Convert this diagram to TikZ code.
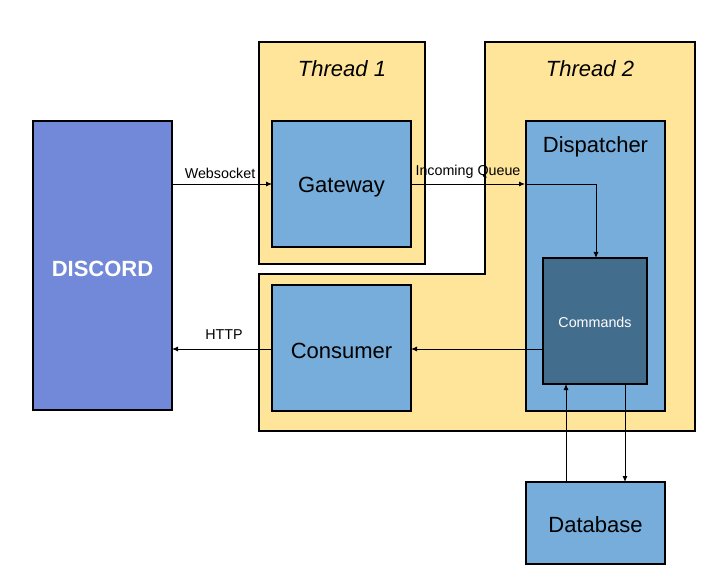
\documentclass[tikz,border=0pt]{standalone}
\usepackage{fontspec}
\setmainfont{Liberation Sans}
\usetikzlibrary{arrows.meta}
\definecolor{thr}{HTML}{FFE599}
\definecolor{bbox}{HTML}{77ADDA}
\definecolor{disc}{HTML}{7289D9}
\definecolor{cmd}{HTML}{436D8D}
\begin{document}
\begin{tikzpicture}[x=1pt,y=-1pt,
  thread/.style={draw=black,fill=thr,line width=1.1pt},
  comp/.style={draw=black,fill=bbox,line width=1.1pt},
  big/.style={font=\fontsize{22}{26}\selectfont},
  conn/.style={line width=0.9pt,-{Latex[length=6pt,width=5pt]}},
  lbl/.style={font=\fontsize{14.3}{17}\selectfont}]
\useasboundingbox (0,0) rectangle (717,585);
% threads
\draw[thread] (259,42) rectangle (425,264);
\draw[thread] (485,42) -- (695,42) -- (695,431) -- (259,431) -- (259,274) -- (485,274) -- cycle;
\node[font=\itshape\fontsize{22}{26}\selectfont] (t1) at (342,69) {Thread 1};
\node[font=\itshape\fontsize{22}{26}\selectfont] (t2) at (590,69) {Thread 2};
% components
\draw[draw=black,fill=disc,line width=1.1pt] (33,121) rectangle (172,410);
\node[font=\bfseries\fontsize{22}{26}\selectfont,text=white] (discord) at (102.5,269) {DISCORD};
\coordinate (dW) at (172,184);
\coordinate (dH) at (172,349);
\draw[comp] (272,121) rectangle (411,247);
\node[big] (gateway) at (341.5,187) {Gateway};
\draw[comp] (272,285) rectangle (411,411);
\node[big] (consumer) at (341.5,351) {Consumer};
\draw[comp] (526,121) rectangle (665,411);
\node[big] (dispatcher) at (595.5,147) {Dispatcher};
\draw[draw=black,fill=cmd,line width=1.1pt] (543,258) rectangle (647,384);
\node[font=\fontsize{14.3}{17}\selectfont,text=white] (commands) at (595,322) {Commands};
\draw[comp] (526,482) rectangle (665,564);
\node[big] (database) at (595.5,525) {Database};
% connectors
\coordinate (gwR) at (411,184);
\coordinate (gwL) at (272,184);
\coordinate (dpL) at (525,184);
\coordinate (cmT) at (596,258);
\coordinate (cmL) at (543,349);
\coordinate (coR) at (411,349);
\coordinate (coL) at (272,349);
\coordinate (cmB1) at (566,384);
\coordinate (cmB2) at (625,384);
\coordinate (dbT1) at (566,482);
\coordinate (dbT2) at (625,482);
\draw[conn] (dW) -- node[lbl,above=2pt,xshift=-2pt] (ws) {Websocket} (gwL);
\draw[conn] (gwR) -- node[lbl,above=2pt] (iq) {Incoming Queue} (dpL);
\draw[conn] (dpL) -- (596,184) -- (cmT);
\draw[conn] (cmL) -- (coR);
\draw[conn] (coL) -- node[lbl,above=6pt,xshift=2pt] (http) {HTTP} (dH);
\draw[conn] (dbT1) -- (cmB1);
\draw[conn] (cmB2) -- (dbT2);
\end{tikzpicture}
\end{document}
